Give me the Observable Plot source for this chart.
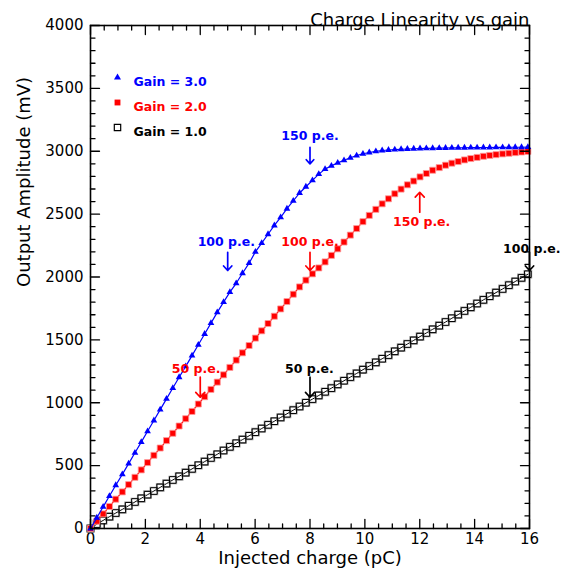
<!DOCTYPE html>
<html>
<head>
<meta charset="utf-8">
<script src="https://cdn.jsdelivr.net/npm/d3@7"></script>
<script src="https://cdn.jsdelivr.net/npm/@observablehq/plot@0.6"></script>
<style>
  html, body { margin: 0; padding: 0; background: #fff; }
</style>
</head>
<body>
<div id="chart"></div>
<script>
// ---- data ----
const title = "Charge Linearity vs gain";
const xTitle = "Injected charge (pC)";
const yTitle = "Output Amplitude (mV)";

const charge = [0, 0.23, 0.46, 0.69, 0.92, 1.16, 1.39, 1.62, 1.85, 2.08, 2.31, 2.54, 2.77, 3.00, 3.23, 3.47, 3.70, 3.93, 4.16, 4.39, 4.62, 4.85, 5.08, 5.31, 5.54, 5.78, 6.01, 6.24, 6.47, 6.70, 6.93, 7.16, 7.39, 7.62, 7.85, 8.09, 8.32, 8.55, 8.78, 9.01, 9.24, 9.47, 9.70, 9.93, 10.16, 10.40, 10.63, 10.86, 11.09, 11.32, 11.55, 11.78, 12.01, 12.24, 12.47, 12.71, 12.94, 13.17, 13.40, 13.63, 13.86, 14.09, 14.32, 14.55, 14.78, 15.02, 15.25, 15.48, 15.71, 15.94];

const gain3 = [0, 86, 172, 258, 344, 430, 516, 602, 687, 773, 859, 945, 1031, 1117, 1203, 1289, 1375, 1461, 1547, 1633, 1719, 1800, 1880, 1950, 2030, 2110, 2200, 2270, 2340, 2410, 2475, 2543, 2605, 2668, 2718, 2768, 2818, 2858, 2884, 2908, 2928, 2948, 2966, 2980, 2990, 2999, 3006, 3010, 3013, 3016, 3018, 3020, 3022, 3023, 3024, 3025, 3026, 3027, 3028, 3028, 3029, 3029, 3030, 3030, 3031, 3031, 3032, 3032, 3032, 3033];

const gain2 = [0, 58, 116, 175, 233, 291, 349, 407, 466, 524, 582, 640, 699, 757, 815, 873, 931, 990, 1048, 1106, 1164, 1222, 1281, 1339, 1397, 1455, 1514, 1572, 1630, 1688, 1746, 1805, 1863, 1921, 1975, 2025, 2072, 2120, 2172, 2224, 2278, 2333, 2385, 2440, 2490, 2538, 2582, 2622, 2662, 2699, 2733, 2763, 2796, 2823, 2849, 2870, 2889, 2905, 2918, 2931, 2942, 2951, 2960, 2967, 2973, 2979, 2984, 2989, 2994, 2998];

const gain1 = [0, 35, 64, 94, 123, 152, 181, 211, 240, 269, 298, 327, 357, 386, 415, 444, 474, 503, 532, 561, 590, 620, 649, 678, 707, 737, 766, 795, 824, 853, 883, 912, 941, 970, 1000, 1029, 1058, 1087, 1116, 1146, 1175, 1204, 1233, 1263, 1292, 1321, 1350, 1379, 1409, 1438, 1467, 1496, 1526, 1555, 1584, 1613, 1642, 1672, 1701, 1730, 1759, 1789, 1818, 1847, 1876, 1905, 1935, 1964, 1993, 2022];

const seriesNames = ["Gain = 3.0", "Gain = 2.0", "Gain = 1.0"];
const seriesColors = ["#0000ff", "#ff0000", "#000000"];

const xTicks = [0, 2, 4, 6, 8, 10, 12, 14, 16];
const yTicks = [0, 500, 1000, 1500, 2000, 2500, 3000, 3500, 4000];

// annotations: label, x, text y, arrow start, arrow end (data units)
const annLabel = ["150 p.e.", "100 p.e.", "100 p.e.", "150 p.e.", "50 p.e.", "50 p.e.", "100 p.e."];
const annSeries = [0, 0, 1, 1, 1, 2, 2];
const annTextX = [8, 4.95, 8, 12.07, 3.85, 7.98, 16.08];
const annArrowX = [8, 5, 8, 12, 4, 8, 16];
const annTextY = [3125, 2277, 2277, 2436, 1270, 1270, 2224];
const annY1 = [3032, 2197, 2197, 2515, 1203, 1203, 2197];
const annY2 = [2900, 2052, 2052, 2674, 1044, 1044, 2052];

// ---- build tables ----
const rows = charge.map((c, i) => ({charge: c, g3: gain3[i], g2: gain2[i], g1: gain1[i]}));
const ann = annLabel.map((l, i) => ({
  label: l, color: seriesColors[annSeries[i]],
  tx: annTextX[i], ax: annArrowX[i], ty: annTextY[i], y1: annY1[i], y2: annY2[i]
}));
const xMinor = d3.range(0, 16.01, 0.5).filter(v => !xTicks.includes(v));
const yMinor = d3.range(0, 4001, 100).filter(v => !yTicks.includes(v));
const xMin = 0, xMax = 16, yMin = 0, yMax = 4000;

const font = "DejaVu Sans, Verdana, sans-serif";
const MAJ = 9, MIN = 4.5;

// straight tick line shape for Plot.vector
const tickShape = {draw(context, l) { context.moveTo(0, 0); context.lineTo(0, -l); }};
const tickStyle = {shape: tickShape, anchor: "start", stroke: "#000", strokeWidth: 1.3};

const legendMarks = [];
const legendSymbols = ["triangle", "square", "square"];
seriesNames.forEach((name, i) => {
  const dy = 52 + i * 25;
  if (i === 2) {
    legendMarks.push(Plot.dot([name], {frameAnchor: "top-left", dx: 27, dy, symbol: "square", r: 3.6, fill: "none", stroke: "#000", strokeWidth: 1.2}));
  } else {
    legendMarks.push(Plot.dot([name], {frameAnchor: "top-left", dx: 27, dy, symbol: legendSymbols[i], r: i === 0 ? 2.6 : 3.3, fill: seriesColors[i], stroke: "none"}));
  }
  legendMarks.push(Plot.text([name], {frameAnchor: "top-left", dx: 43, dy, text: d => d, textAnchor: "start", fill: seriesColors[i], fontSize: 12.5, fontWeight: "bold", fontFamily: font}));
});

const chart = Plot.plot({
  width: 567,
  height: 576,
  marginLeft: 90,
  marginRight: 38,
  marginTop: 25,
  marginBottom: 48,
  style: {fontFamily: font},
  x: {domain: [xMin, xMax]},
  y: {domain: [yMin, yMax]},
  marks: [
    // axis labels
    Plot.axisX({ticks: xTicks, tickSize: 0, tickPadding: 5, fontSize: 15, label: null, tickFormat: d3.format("d")}),
    Plot.axisY({ticks: yTicks, tickSize: 0, tickPadding: 7, fontSize: 15, label: null, tickFormat: d3.format("d")}),

    // gain 1.0
    Plot.line(rows, {x: "charge", y: "g1", stroke: "#000", strokeWidth: 1}),
    Plot.dot(rows, {x: "charge", y: "g1", symbol: "square", r: 4.1, fill: "none", stroke: "#999", strokeWidth: 1.4}),
    Plot.dot(rows, {x: "charge", y: "g1", symbol: "square", r: 3.7, fill: "none", stroke: "#000", strokeWidth: 1}),
    // gain 2.0
    Plot.line(rows, {x: "charge", y: "g2", stroke: "#ff0000", strokeWidth: 1.2}),
    Plot.dot(rows, {x: "charge", y: "g2", symbol: "square", r: 3.4, fill: "#ff0000", stroke: "#ff9a9a", strokeWidth: 0.8}),
    // gain 3.0
    Plot.line(rows, {x: "charge", y: "g3", stroke: "#0000ff", strokeWidth: 1.2}),
    Plot.dot(rows, {x: "charge", y: "g3", symbol: "triangle", r: 2.5, fill: "#0000ff", stroke: "none"}),

    // inward ticks on all four sides
    Plot.vector(xTicks, {x: d => d, y: yMin, length: MAJ, rotate: 0, ...tickStyle}),
    Plot.vector(xMinor, {x: d => d, y: yMin, length: MIN, rotate: 0, ...tickStyle}),
    Plot.vector(xTicks, {x: d => d, y: yMax, length: MAJ, rotate: 180, ...tickStyle}),
    Plot.vector(xMinor, {x: d => d, y: yMax, length: MIN, rotate: 180, ...tickStyle}),
    Plot.vector(yTicks, {x: xMin, y: d => d, length: MAJ, rotate: 90, ...tickStyle}),
    Plot.vector(yMinor, {x: xMin, y: d => d, length: MIN, rotate: 90, ...tickStyle}),
    Plot.vector(yTicks, {x: xMax, y: d => d, length: MAJ, rotate: -90, ...tickStyle}),
    Plot.vector(yMinor, {x: xMax, y: d => d, length: MIN, rotate: -90, ...tickStyle}),

    // annotations
    Plot.arrow(ann, {x1: "ax", y1: "y1", x2: "ax", y2: "y2", stroke: "color", strokeWidth: 1.7, headLength: 8, headAngle: 85}),
    Plot.text(ann, {x: "tx", y: "ty", text: "label", fill: "color", fontSize: 12.5, fontWeight: "bold"}),

    // legend
    ...legendMarks,

    // titles
    Plot.text([title], {frameAnchor: "top-right", dy: -12, text: d => d, textAnchor: "end", fontSize: 18}),
    Plot.text([xTitle], {frameAnchor: "bottom", dy: 35, text: d => d, fontSize: 18}),
    Plot.text([yTitle], {frameAnchor: "left", dx: -66, dy: 10, text: d => d, rotate: -90, fontSize: 18}),

    Plot.frame({stroke: "#000", strokeWidth: 1.6})
  ]
});
document.getElementById("chart").append(chart);
</script>
</body>
</html>
